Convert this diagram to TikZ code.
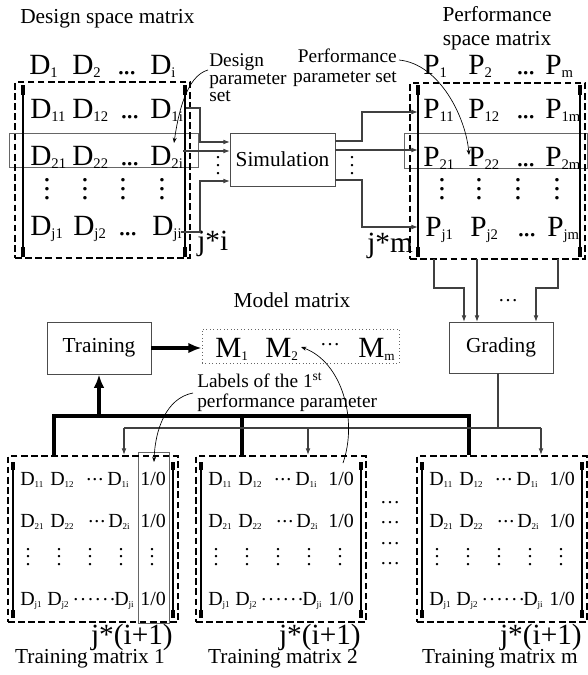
\documentclass[tikz,border=0pt]{standalone}
\usepackage{fontspec}
\setmainfont{Liberation Serif}
\usetikzlibrary{arrows.meta,fit}

\newcommand\lo[1]{\raisebox{-0.13em}{\scalebox{0.5}{#1}}}
\newcommand\los[1]{\raisebox{-0.13em}{\scalebox{0.45}{#1}}}
\newcommand\ldt[1][-0.05em]{.\kern#1.\kern#1.}
\newcommand\cdt[1][0.05em]{\raisebox{0.22em}{.\kern#1.\kern#1.}}
\newcommand\vdt[1]{\vbox{\baselineskip=#1\lineskiplimit=-\maxdimen\hbox{.}\hbox{.}\hbox{.}}}

\tikzset{
  big/.style={font=\fontsize{22}{24}\selectfont, inner sep=0pt, anchor=base west},
  tm/.style={font=\fontsize{15}{17}\selectfont, inner sep=0pt, anchor=base west},
  lbl/.style={font=\fontsize{16}{19}\selectfont, inner sep=0pt},
  note/.style={font=\fontsize{14.5}{17}\selectfont, inner sep=0pt},
  vdbig/.style={font=\fontsize{22}{24}\selectfont, inner sep=0pt},
  vdsm/.style={font=\fontsize{15}{17}\selectfont, inner sep=0pt},
  conn/.style={line width=0.8pt, draw=black!75},
  arr/.style={conn, -{Latex[length=5pt,width=3.6pt]}},
  bus/.style={line width=2.6pt, line join=miter},
  busarr/.style={bus, -{Latex[length=10pt,width=8pt]}},
  dbox/.style={draw, line width=1.5pt, dash pattern=on 5pt off 2.6pt, inner sep=0pt},
  hl/.style={draw=black!60, line width=0.5pt, inner sep=0pt},
  proc/.style={draw=black!70, line width=0.7pt, inner sep=0pt, font=\fontsize{16}{19}\selectfont},
  brk/.style={line width=1.4pt},
  brkend/.style={line width=3.6pt},
  curv/.style={line width=0.5pt, -{Stealth[length=4pt,width=3pt]}},
}

\newcommand\trmat[4]{%
  \node[dbox, fit={(#1-5,456) (#1+165,622)}] (#2f) {};
  \draw[brk] (#1,462) -- (#1,618);
  \draw[brkend] (#1,462) -- (#1,470) (#1,610) -- (#1,618);
  \draw[brk] (#1+160,462) -- (#1+160,618);
  \draw[brkend] (#1+160,462) -- (#1+160,470) (#1+160,610) -- (#1+160,618);
  \node[tm] (#2ra) at (#1+7,485) {D\los{11}};
  \node[tm] (#2rb) at (#1+37,485) {D\los{12}};
  \node[tm] (#2rc) at (#1+73,485) {\cdt};
  \node[tm] (#2rd) at (#1+94,485) {D\los{1i}};
  \node[tm] (#2re) at (#1+127,485) {1/0};
  \node[tm] (#2sa) at (#1+7,527) {D\los{21}};
  \node[tm] (#2sb) at (#1+37,527) {D\los{22}};
  \node[tm] (#2sc) at (#1+75,527) {\cdt};
  \node[tm] (#2sd) at (#1+95,527) {D\los{2i}};
  \node[tm] (#2se) at (#1+127,527) {1/0};
  \node[vdsm] (#2ta) at (#1+15,557) {\vdt{5.6pt}};
  \node[vdsm] (#2tb) at (#1+46,557) {\vdt{5.6pt}};
  \node[vdsm] (#2tc) at (#1+77,557) {\vdt{5.6pt}};
  \node[vdsm] (#2td) at (#1+108,557) {\vdt{5.6pt}};
  \node[vdsm] (#2te) at (#1+139,557) {\vdt{5.6pt}};
  \node[tm] (#2ua) at (#1+7,605) {D\los{j1}};
  \node[tm] (#2ub) at (#1+34,605) {D\los{j2}};
  \node[tm] (#2uc) at (#1+60,605) {\cdt[0.12em]\kern0.12em\cdt[0.12em]};
  \node[tm] (#2ud) at (#1+101,605) {D\los{ji}};
  \node[tm] (#2ue) at (#1+127,605) {1/0};
  \node[big, anchor=base east] (#2dim) at (#1+160,644) {j*(i+1)};
  \node[lbl, anchor=base] (#2title) at (#1+#4,663) {#3};
}

\begin{document}
\begin{tikzpicture}[x=0.75pt,y=-0.75pt]
\useasboundingbox (0,0) rectangle (588,675);

% ---------- titles ----------
\node[lbl, anchor=base west] (dsmtitle) at (20,23) {Design space matrix};
\node[lbl, anchor=base] (psmtitle1) at (497,21) {Performance};
\node[lbl, anchor=base] (psmtitle2) at (497,45) {space matrix};
\node[note, anchor=base west] (dps1) at (209,66) {Design};
\node[note, anchor=base west] (dps2) at (209,84) {parameter};
\node[note, anchor=base west] (dps3) at (209,101) {set};
\node[note, anchor=base east] (pps1) at (397,62) {Performance};
\node[note, anchor=base east] (pps2) at (397,82) {parameter set};

% ---------- design space matrix ----------
\node[hl, fit={(9,133) (198,167)}] (drow) {};
\node[dbox, fit={(15,82) (190,258)}] (dframe) {};
\draw[brk] (23,85) -- (23,257);
\draw[brkend] (23,85) -- (23,95) (23,247) -- (23,257);
\draw[brk] (185,85) -- (185,257);
\draw[brkend] (185,85) -- (185,95) (185,247) -- (185,257);
\node[big] (dh1) at (29,74) {D\lo{1}};
\node[big] (dh2) at (72,74) {D\lo{2}};
\node[big] (dh3) at (117,74) {\ldt};
\node[big] (dh4) at (150,74) {D\lo{i}};
\node[big] (d11) at (30,118) {D\lo{11}};
\node[big] (d12) at (72,118) {D\lo{12}};
\node[big] (d13) at (120,118) {\ldt};
\node[big] (d14) at (150,118) {D\lo{1i}};
\node[big] (d21) at (30,165) {D\lo{21}};
\node[big] (d22) at (72,165) {D\lo{22}};
\node[big] (d23) at (120,165) {\ldt};
\node[big] (d24) at (150,165) {D\lo{2i}};
\node[vdbig] (dv1) at (47,189) {\vdt{6.75pt}};
\node[vdbig] (dv2) at (85,189) {\vdt{6.75pt}};
\node[vdbig] (dv3) at (123,189) {\vdt{6.75pt}};
\node[vdbig] (dv4) at (162,189) {\vdt{6.75pt}};
\node[big] (dj1) at (30,235) {D\lo{j1}};
\node[big] (dj2) at (73,235) {D\lo{j2}};
\node[big] (dj3) at (118,235) {\ldt};
\node[big] (dj4) at (152,235) {D\lo{ji}};
\node[big] (ji) at (197,250) {j*i};

% ---------- performance space matrix ----------
\node[hl, fit={(404,133) (587,168)}] (prow) {};
\node[dbox, fit={(410,83) (585,259)}] (pframe) {};
\draw[brk] (418,85) -- (418,257);
\draw[brkend] (418,85) -- (418,95) (418,247) -- (418,257);
\draw[brk] (580,85) -- (580,257);
\draw[brkend] (580,85) -- (580,95) (580,247) -- (580,257);
\node[big] (ph1) at (423,74) {P\lo{1}};
\node[big] (ph2) at (468,74) {P\lo{2}};
\node[big] (ph3) at (516,74) {\ldt};
\node[big] (ph4) at (545,74) {P\lo{m}};
\node[big] (p11) at (423,118) {P\lo{11}};
\node[big] (p12) at (468,118) {P\lo{12}};
\node[big] (p13) at (516,118) {\ldt};
\node[big] (p14) at (545,118) {P\lo{1m}};
\node[big] (p21) at (423,166) {P\lo{21}};
\node[big] (p22) at (468,166) {P\lo{22}};
\node[big] (p23) at (516,166) {\ldt};
\node[big] (p24) at (545,166) {P\lo{2m}};
\node[vdbig] (pv1) at (442,189) {\vdt{6.75pt}};
\node[vdbig] (pv2) at (479,189) {\vdt{6.75pt}};
\node[vdbig] (pv3) at (518,189) {\vdt{6.75pt}};
\node[vdbig] (pv4) at (557,189) {\vdt{6.75pt}};
\node[big] (pj1) at (425,236) {P\lo{j1}};
\node[big] (pj2) at (470,236) {P\lo{j2}};
\node[big] (pj3) at (517,236) {\ldt};
\node[big] (pj4) at (547,236) {P\lo{jm}};
\node[big] (jm) at (367,252) {j*m};

% ---------- simulation ----------
\node[proc, minimum width=78.75pt, minimum height=39.75pt] (sim) at (282.5,159.5) {Simulation};
\node[vdsm] (simvl) at (218,166) {\vdt{6pt}};
\node[vdsm] (simvr) at (352,166) {\vdt{6pt}};

\coordinate (eL) at (200,0);
\coordinate (eR) at (362,0);
\coordinate (d1out) at (186,108);
\coordinate (d2out) at (183,151);
\coordinate (djout) at (181,232);
\coordinate (sin1) at (230,142);
\coordinate (sin2) at (230,151);
\coordinate (sin3) at (230,181);
\coordinate (sout1) at (335,141);
\coordinate (sout2) at (335,150);
\coordinate (sout3) at (335,180);
\coordinate (pin1) at (418,112);
\coordinate (pin2) at (418,150);
\coordinate (pin3) at (418,227);
\draw[arr] (d1out) -| (eL |- sin1) -- (sin1);
\draw[arr] (d2out) -- (sin2);
\draw[arr] (djout) -| (eL |- sin3) -- (sin3);
\draw[arr] (sout1) -| (eR |- pin1) -- (pin1);
\draw[arr] (sout2) -- (pin2);
\draw[arr] (sout3) -| (eR |- pin3) -- (pin3);

% ---------- grading ----------
\node[proc, minimum width=78pt, minimum height=38.25pt] (grad) at (501,347.5) {Grading};
\coordinate (hG) at (0,288);
\coordinate (pb1) at (434,259);
\coordinate (pb2) at (477,259);
\coordinate (pb3) at (558,259);
\coordinate (gin1) at (464,322);
\coordinate (gin2) at (477,322);
\coordinate (gin3) at (536,322);
\draw[arr] (pb1) |- (hG -| gin1) -- (gin1);
\draw[arr] (pb2) -- (gin2);
\draw[arr] (pb3) |- (hG -| gin3) -- (gin3);
\node[vdsm] (gdots) at (508,301) {…};

% ---------- model matrix and training ----------
\node[lbl, anchor=base] (mmtitle) at (292,307) {Model matrix};
\node[draw=black!60, dotted, line width=0.6pt, inner sep=0pt, minimum width=147.75pt, minimum height=25.5pt] (mbox) at (300.5,346) {};
\node[big] (m1) at (215,357) {M\los{1}};
\node[big] (m2) at (265,357) {M\los{2}};
\node[vdsm] (m3) at (330,345) {…};
\node[big] (m4) at (358,357) {M\los{m}};
\node[proc, minimum width=78pt, minimum height=39pt] (train) at (99,348) {Training};
\draw[busarr] (train.east) -- (train.east -| mbox.west);

\node[note, anchor=base west] (lab1) at (197,387) {Labels of the 1\textsuperscript{st}};
\node[note, anchor=base west] (lab2) at (197,407) {performance parameter};

% ---------- training matrices ----------
\node[hl, fit={(138,452) (169,623)}] (lcol) {};
\trmat{13}{ta}{Training matrix 1}{77}
\trmat{201}{tb}{Training matrix 2}{82}
\trmat{422}{tc}{Training matrix m}{78}
\node[vdsm] (mid1) at (390,503) {…};
\node[vdsm] (mid2) at (390,523) {…};
\node[vdsm] (mid3) at (390,544) {…};
\node[vdsm] (mid4) at (390,564) {…};

% ---------- buses ----------
\coordinate (bb1) at (54,416);
\coordinate (bbT) at (99,416);
\coordinate (bb2) at (242,416);
\coordinate (bb3) at (469,416);
\draw[bus] (bb1 |- taf.north) -- (bb1) -- (bb3) -- (bb3 |- tcf.north);
\draw[bus] (bb2) -- (bb2 |- tbf.north);
\draw[busarr] (bbT) -- (train.south);

\coordinate (gout) at (498,373);
\coordinate (tb1) at (124,428);
\coordinate (tb2) at (308,428);
\coordinate (tb3) at (541,428);
\draw[conn] (gout) -- (gout |- tb1);
\draw[conn] (tb1) -- (tb3);
\draw[arr] (tb1) -- (tb1 |- taf.north);
\draw[arr] (tb2) -- (tb2 |- tbf.north);
\draw[arr] (tb3) -- (tb3 |- tcf.north);

% ---------- curved pointers ----------
\coordinate (dpsS) at (208,70);
\coordinate (dpsE) at (174,143);
\draw[curv] (dpsS) .. controls (186,76) and (178,115) .. (dpsE);
\coordinate (ppsS) at (399,60);
\coordinate (ppsE) at (469,155);
\draw[curv] (ppsS) .. controls (440,64) and (466,118) .. (ppsE);
\coordinate (labS) at (193,393);
\coordinate (labE) at (154,462);
\draw[curv] (labS) .. controls (166,398) and (155,430) .. (labE);
\coordinate (m2S) at (343,463);
\coordinate (m2E) at (301,347);
\draw[curv] (m2S) .. controls (358,420) and (342,362) .. (m2E);
\end{tikzpicture}
\end{document}
